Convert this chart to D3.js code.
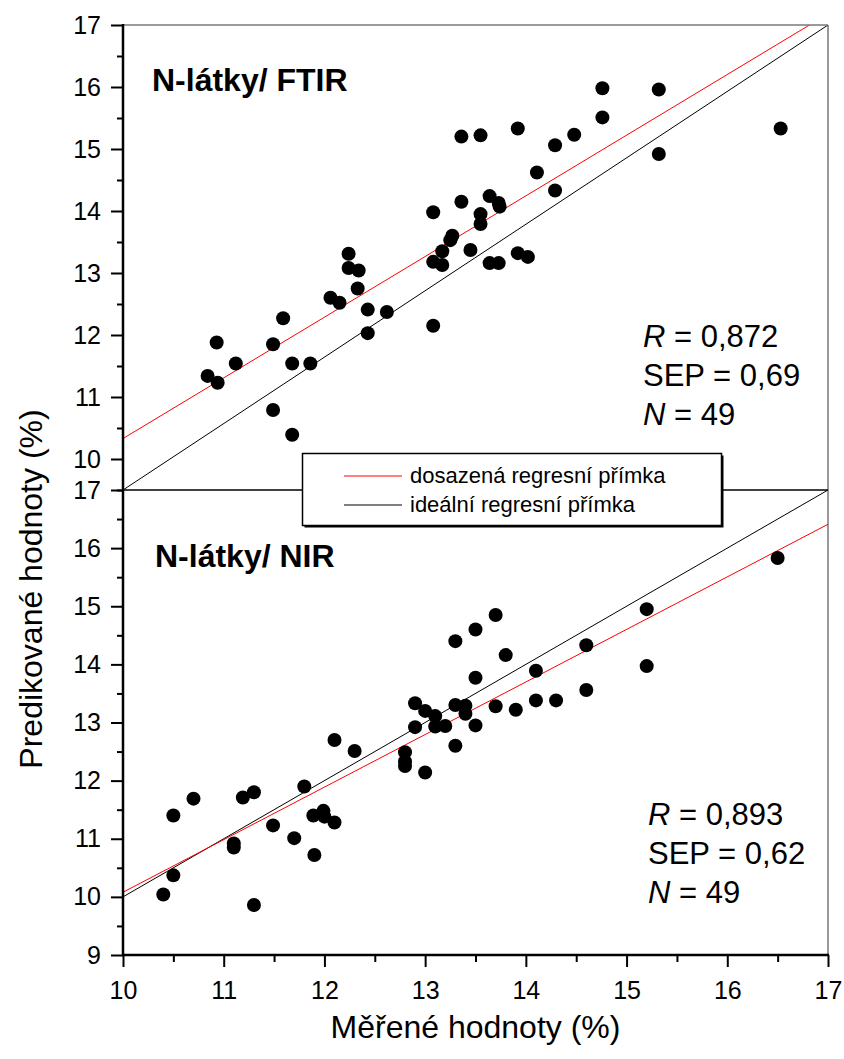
<!DOCTYPE html>
<html>
<head>
<meta charset="utf-8">
<script src="https://cdn.jsdelivr.net/npm/d3@7"></script>
<style>
  html, body { margin: 0; padding: 0; background: #fff; }
  svg { display: block; font-family: "Liberation Sans", Arial, sans-serif; }
</style>
</head>
<body>
<svg id="chart" width="844" height="1059"></svg>
<script>
// N-látky: measured vs predicted, FTIR (top panel) and NIR (bottom panel)
const ftirMeasured = [10.84, 10.94, 10.93, 11.12, 11.49, 11.59, 11.49, 11.68, 11.68, 11.86,
  12.06, 12.15, 12.24, 12.24, 12.34, 12.33, 12.43, 12.43, 12.62, 13.08,
  13.08, 13.17, 13.17, 13.08, 13.27, 13.25, 13.45, 13.36, 13.55, 13.92,
  14.76, 15.32, 14.76, 14.48, 14.29, 15.32, 16.53, 14.11, 14.29, 13.36,
  13.64, 13.73, 13.74, 13.55, 13.55, 13.92, 14.02, 13.64, 13.73];
const ftirPredicted = [11.34, 11.23, 11.88, 11.54, 11.85, 12.27, 10.79, 11.54, 10.39, 11.54,
  12.60, 12.52, 13.31, 13.08, 13.04, 12.75, 12.41, 12.03, 12.37, 12.15,
  13.18, 13.13, 13.35, 13.98, 13.60, 13.53, 13.37, 15.20, 15.22, 15.33,
  15.98, 15.96, 15.51, 15.23, 15.06, 14.92, 15.33, 14.62, 14.33, 14.15,
  14.24, 14.13, 14.07, 13.95, 13.79, 13.32, 13.26, 13.16, 13.16];

const nirMeasured = [10.40, 10.50, 10.50, 10.70, 11.10, 11.10, 11.19, 11.30, 11.30, 11.49,
  11.70, 11.80, 11.89, 11.90, 11.99, 12.00, 12.10, 12.10, 12.30, 12.80,
  12.80, 12.80, 13.00, 12.90, 12.90, 13.00, 13.10, 13.20, 13.10, 13.30,
  13.50, 13.30, 13.50, 13.50, 13.30, 13.40, 13.40, 13.70, 13.80, 13.70,
  13.90, 14.10, 14.10, 14.30, 14.60, 14.60, 15.20, 15.20, 16.50];
const nirPredicted = [10.04, 10.37, 11.40, 11.69, 10.92, 10.85, 11.71, 11.80, 9.86, 11.23,
  11.01, 11.90, 11.40, 10.72, 11.48, 11.38, 11.28, 12.70, 12.51, 12.49,
  12.33, 12.25, 12.14, 12.92, 13.33, 13.20, 12.93, 12.94, 13.11, 12.60,
  12.95, 14.40, 14.60, 13.77, 13.30, 13.29, 13.15, 14.85, 14.16, 13.28,
  13.22, 13.89, 13.38, 13.38, 14.33, 13.56, 14.95, 13.97, 15.83];

// Line end points [x, y] in data units
const ftirFitLine = [[10, 10.33], [17, 17.18]];
const ftirIdealLine = [[10, 9.5], [17, 17]];
const nirFitLine = [[10, 10.08], [17, 16.41]];
const nirIdealLine = [[10, 10], [17, 17]];

const xTicks = [10, 11, 12, 13, 14, 15, 16, 17];
const xMinorTicks = [10.5, 11.5, 12.5, 13.5, 14.5, 15.5, 16.5];
const ftirYTicks = [10, 11, 12, 13, 14, 15, 16, 17];
const ftirYMinorTicks = [9.5, 10.5, 11.5, 12.5, 13.5, 14.5, 15.5, 16.5];
const nirYTicks = [9, 10, 11, 12, 13, 14, 15, 16, 17];
const nirYMinorTicks = [9.5, 10.5, 11.5, 12.5, 13.5, 14.5, 15.5, 16.5];

const panelTitles = ["N-látky/ FTIR", "N-látky/ NIR"];
const statsFtir = [["R", " = 0,872"], ["SEP = 0,69", ""], ["N", " = 49"]];
const statsNir = [["R", " = 0,893"], ["SEP = 0,62", ""], ["N", " = 49"]];
const legendLabels = ["dosazená regresní přímka", "ideální regresní přímka"];
const xTitle = "Měřené hodnoty (%)";
const yTitle = "Predikované hodnoty (%)";

const svg = d3.select("#chart");
const left = 123, right = 828;
const topY0 = 25, midY = 490, botY1 = 955;

const x = d3.scaleLinear().domain([10, 17]).range([left, right]);
const yTop = d3.scaleLinear().domain([9.5, 17]).range([midY, topY0]);
const yBot = d3.scaleLinear().domain([9, 17]).range([botY1, midY]);

const defs = svg.append("defs");
defs.append("clipPath").attr("id", "clipTop").append("rect")
  .attr("x", left).attr("y", topY0).attr("width", right - left).attr("height", midY - topY0);
defs.append("clipPath").attr("id", "clipBot").append("rect")
  .attr("x", left).attr("y", midY).attr("width", right - left).attr("height", botY1 - midY);

function drawPanel(y, clipId, meas, pred, fit, ideal) {
  const g = svg.append("g").attr("clip-path", `url(#${clipId})`);
  const line = d3.line().x(d => x(d[0])).y(d => y(d[1]));
  g.append("path").attr("d", line(ideal)).attr("fill", "none")
    .attr("stroke", "#000").attr("stroke-width", 1);
  g.append("path").attr("d", line(fit)).attr("fill", "none")
    .attr("stroke", "#ff0000").attr("stroke-width", 1);
  const pts = meas.map((m, i) => [m, pred[i]]);
  svg.append("g").selectAll("circle").data(pts).join("circle")
    .attr("cx", d => x(d[0])).attr("cy", d => y(d[1])).attr("r", 7)
    .attr("fill", "#000");
}

drawPanel(yTop, "clipTop", ftirMeasured, ftirPredicted, ftirFitLine, ftirIdealLine);
drawPanel(yBot, "clipBot", nirMeasured, nirPredicted, nirFitLine, nirIdealLine);

// frame: grey top/right edges, black separator
svg.append("line").attr("x1", left).attr("x2", right).attr("y1", topY0).attr("y2", topY0)
  .attr("stroke", "#7a7a7a").attr("stroke-width", 1.5);
svg.append("line").attr("x1", right).attr("x2", right).attr("y1", topY0).attr("y2", botY1)
  .attr("stroke", "#555").attr("stroke-width", 1.2);
svg.append("line").attr("x1", left).attr("x2", right).attr("y1", midY).attr("y2", midY)
  .attr("stroke", "#000").attr("stroke-width", 1.5);

// y axes
function yAxis(scale, majors, minors, labelled) {
  const gMaj = svg.append("g").attr("transform", `translate(${left},0)`)
    .call(d3.axisLeft(scale).tickValues(majors).tickSize(12).tickPadding(10).tickFormat(labelled));
  const gMin = svg.append("g").attr("transform", `translate(${left},0)`)
    .call(d3.axisLeft(scale).tickValues(minors).tickSize(6).tickFormat(""));
  [gMaj, gMin].forEach(g => {
    g.select(".domain").remove();
    g.selectAll("line").attr("stroke", "#000").attr("stroke-width", 2);
  });
  gMaj.selectAll("text").attr("fill", "#000")
    .style("font-family", "'Liberation Sans', Arial, sans-serif").style("font-size", "25px");
}
yAxis(yTop, ftirYTicks, ftirYMinorTicks, d3.format("d"));
yAxis(yBot, nirYTicks, nirYMinorTicks, d3.format("d"));

// x axis
const gx = svg.append("g").attr("transform", `translate(0,${botY1})`)
  .call(d3.axisBottom(x).tickValues(xTicks).tickSize(12).tickPadding(14).tickFormat(d3.format("d")));
const gxm = svg.append("g").attr("transform", `translate(0,${botY1})`)
  .call(d3.axisBottom(x).tickValues(xMinorTicks).tickSize(7).tickFormat(""));
[gx, gxm].forEach(g => {
  g.select(".domain").remove();
  g.selectAll("line").attr("stroke", "#000").attr("stroke-width", 2);
});
gx.selectAll("text").attr("fill", "#000")
  .style("font-family", "'Liberation Sans', Arial, sans-serif").style("font-size", "25px");

// axis lines
svg.append("line").attr("x1", left).attr("x2", left).attr("y1", topY0 - 1).attr("y2", botY1 + 1)
  .attr("stroke", "#000").attr("stroke-width", 2.5);
svg.append("line").attr("x1", left - 1).attr("x2", right + 1).attr("y1", botY1).attr("y2", botY1)
  .attr("stroke", "#000").attr("stroke-width", 2.5);

// axis titles
svg.append("text").attr("x", (left + right) / 2).attr("y", 1038)
  .attr("text-anchor", "middle").attr("font-size", 32).attr("fill", "#000").text(xTitle);
svg.append("text").attr("transform", "translate(42,589) rotate(-90)")
  .attr("text-anchor", "middle").attr("font-size", 32).attr("fill", "#000").text(yTitle);

// panel titles
svg.append("text").attr("x", 152).attr("y", 91).attr("font-size", 32)
  .attr("font-weight", "bold").attr("fill", "#000").text(panelTitles[0]);
svg.append("text").attr("x", 155).attr("y", 567).attr("font-size", 32)
  .attr("font-weight", "bold").attr("fill", "#000").text(panelTitles[1]);

// statistics blocks
function stats(rows, x0, baselines) {
  rows.forEach((r, i) => {
    const t = svg.append("text").attr("x", x0).attr("y", baselines[i])
      .attr("font-size", 31).attr("fill", "#000");
    if (r[1] === "") {
      t.text(r[0]);
    } else {
      t.append("tspan").attr("font-style", "italic").text(r[0]);
      t.append("tspan").text(r[1]);
    }
  });
}
stats(statsFtir, 643, [347, 386, 425]);
stats(statsNir, 648, [825, 864, 903]);

// legend
const lg = svg.append("g");
lg.append("rect").attr("x", 304.5).attr("y", 455.5).attr("width", 419).attr("height", 72)
  .attr("fill", "#000");
lg.append("rect").attr("x", 302.5).attr("y", 453.5).attr("width", 419).attr("height", 72)
  .attr("fill", "#fff").attr("stroke", "#000").attr("stroke-width", 1.5);
const legendColors = ["#ff0000", "#000"];
legendLabels.forEach((lab, i) => {
  const yy = 476 + i * 29;
  lg.append("line").attr("x1", 344).attr("x2", 402).attr("y1", yy).attr("y2", yy)
    .attr("stroke", legendColors[i]).attr("stroke-width", 1);
  lg.append("text").attr("x", 410).attr("y", yy + 7).attr("font-size", 22)
    .attr("fill", "#000").text(lab);
});
</script>
</body>
</html>
